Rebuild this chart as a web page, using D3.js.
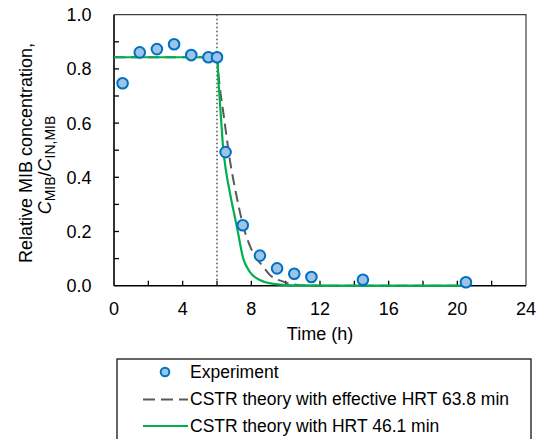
<!DOCTYPE html>
<html>
<head>
<meta charset="utf-8">
<script src="https://cdn.jsdelivr.net/npm/d3@7"></script>
<style>
  html, body { margin: 0; padding: 0; background: #fff; }
  svg { display: block; font-family: "Liberation Sans", Arial, sans-serif; }
</style>
</head>
<body>
<svg id="chart" width="537" height="439"></svg>
<script>
// Measured MIB concentration (relative to inlet) over time
const expTime = [0.5, 1.5, 2.5, 3.5, 4.5, 5.5, 6.0, 6.5, 7.5, 8.5, 9.5, 10.5, 11.5, 14.5, 20.5];
const expConc = [0.747, 0.861, 0.873, 0.891, 0.851, 0.843, 0.843, 0.493, 0.223, 0.111, 0.064, 0.044, 0.032, 0.022, 0.0125];

// CSTR theory, effective HRT 63.8 min
const effTime = [0, 6.0, 6.1, 6.41, 6.76, 7.11, 7.53, 8.11, 8.70, 9.09, 9.86, 10.43, 11.5, 20.5];
const effConc = [0.843, 0.843, 0.77, 0.62, 0.46, 0.34, 0.22, 0.12, 0.07, 0.039, 0.015, 0.005, 0.0, 0.0];

// CSTR theory, HRT 46.1 min
const hrtTime = [0, 6.0, 6.1, 6.2, 6.37, 6.51, 6.76, 7.15, 7.53, 7.92, 8.5, 9.38, 10.8, 13, 20.5];
const hrtConc = [0.843, 0.843, 0.74, 0.65, 0.50, 0.43, 0.34, 0.22, 0.10, 0.05, 0.021, 0.006, 0.001, 0.0, 0.0];

// Switch time marker (h)
const switchTime = 6;

// Axis ticks
const xMajorTicks = [0, 4, 8, 12, 16, 20, 24];
const xMinorTicks = [2, 4, 6, 8, 10, 12, 14, 16, 18, 20, 22];
const yMajorTicks = [0.0, 0.2, 0.4, 0.6, 0.8, 1.0];
const yMinorTicks = [0.1, 0.2, 0.3, 0.4, 0.5, 0.6, 0.7, 0.8, 0.9];

const legendLabels = [
  "Experiment",
  "CSTR theory with effective HRT 63.8 min",
  "CSTR theory with HRT 46.1 min"
];

const svg = d3.select("#chart");
const plot = { left: 114, right: 526, top: 14.7, bottom: 285.7 };

const x = d3.scaleLinear().domain([0, 24]).range([plot.left, plot.right]);
const y = d3.scaleLinear().domain([0, 1]).range([plot.bottom, plot.top]);

const fs = 18;
const dashPattern = "11,6";

// Frame (top and right)
svg.append("path")
  .attr("d", `M${plot.left},${plot.top}H${plot.right}V${plot.bottom}`)
  .attr("fill", "none").attr("stroke", "#404040").attr("stroke-width", 1.2);

// Inward ticks
svg.append("g").selectAll("line").data(xMinorTicks).join("line")
  .attr("x1", d => x(d)).attr("x2", d => x(d))
  .attr("y1", plot.bottom).attr("y2", plot.bottom - 5)
  .attr("stroke", "#000").attr("stroke-width", 1.3);
svg.append("g").selectAll("line").data(yMinorTicks).join("line")
  .attr("x1", plot.left).attr("x2", plot.left + 5)
  .attr("y1", d => y(d)).attr("y2", d => y(d))
  .attr("stroke", "#000").attr("stroke-width", 1.3);

// Axis lines
svg.append("line").attr("x1", plot.left).attr("x2", plot.left)
  .attr("y1", plot.top).attr("y2", plot.bottom)
  .attr("stroke", "#000").attr("stroke-width", 1.6);
svg.append("line").attr("x1", plot.left).attr("x2", plot.right)
  .attr("y1", plot.bottom).attr("y2", plot.bottom)
  .attr("stroke", "#000").attr("stroke-width", 1.6);

// Tick labels
svg.append("g").selectAll("text").data(xMajorTicks).join("text")
  .attr("x", d => x(d)).attr("y", 315)
  .attr("text-anchor", "middle").attr("font-size", fs).attr("fill", "#000")
  .text(d => d);
svg.append("g").selectAll("text").data(yMajorTicks).join("text")
  .attr("x", 91.5).attr("y", d => y(d) + 6.5)
  .attr("text-anchor", "end").attr("font-size", fs).attr("fill", "#000")
  .text(d => d.toFixed(1));

// Axis titles
svg.append("text").attr("x", (plot.left + plot.right) / 2).attr("y", 340)
  .attr("text-anchor", "middle").attr("font-size", fs).text("Time (h)");

const yTitle = svg.append("g");
yTitle.append("text")
  .attr("transform", "translate(32,153) rotate(-90)")
  .attr("text-anchor", "middle").attr("font-size", fs)
  .text("Relative MIB concentration,");
const t2 = yTitle.append("text")
  .attr("transform", "translate(51,165) rotate(-90)")
  .attr("text-anchor", "middle").attr("font-size", fs);
t2.append("tspan").attr("font-style", "italic").text("C");
t2.append("tspan").attr("font-size", 14).attr("dy", 4).text("MIB");
t2.append("tspan").attr("dy", -4).text("/");
t2.append("tspan").attr("font-style", "italic").text("C");
t2.append("tspan").attr("font-size", 14).attr("dy", 4).text("IN,MIB");

// Switch-time dotted line
svg.append("line")
  .attr("x1", x(switchTime)).attr("x2", x(switchTime))
  .attr("y1", plot.top).attr("y2", plot.bottom)
  .attr("stroke", "#595959").attr("stroke-width", 1.6)
  .attr("stroke-dasharray", "1.6,2.4");

const line = d3.line().x(d => x(d[0])).y(d => y(d[1])).curve(d3.curveMonotoneX);

// Effective-HRT theory (dashed)
svg.append("path")
  .datum(effTime.map((t, i) => [t, effConc[i]]))
  .attr("d", line).attr("fill", "none")
  .attr("stroke", "#595959").attr("stroke-width", 2)
  .attr("stroke-dasharray", dashPattern);

// HRT theory (green)
svg.append("path")
  .datum(hrtTime.map((t, i) => [t, hrtConc[i]]))
  .attr("d", line).attr("fill", "none")
  .attr("stroke", "#00b050").attr("stroke-width", 2.2);

// Experimental points
svg.append("g").selectAll("circle").data(expTime.map((t, i) => [t, expConc[i]])).join("circle")
  .attr("cx", d => x(d[0])).attr("cy", d => y(d[1])).attr("r", 5.3)
  .attr("fill", "#9dc3e6").attr("stroke", "#0070c0").attr("stroke-width", 2);

// Legend
const lg = svg.append("g");
lg.append("rect").attr("x", 117).attr("y", 359).attr("width", 414).attr("height", 100)
  .attr("fill", "#fff").attr("stroke", "#000").attr("stroke-width", 1.2);
lg.append("circle").attr("cx", 165).attr("cy", 372).attr("r", 4.3)
  .attr("fill", "#9dc3e6").attr("stroke", "#0070c0").attr("stroke-width", 2);
lg.append("line").attr("x1", 143).attr("x2", 188).attr("y1", 399.5).attr("y2", 399.5)
  .attr("stroke", "#595959").attr("stroke-width", 2).attr("stroke-dasharray", "12,6");
lg.append("line").attr("x1", 143).attr("x2", 188).attr("y1", 426).attr("y2", 426)
  .attr("stroke", "#00b050").attr("stroke-width", 2.2);
lg.selectAll("text.lbl").data(legendLabels).join("text").attr("class", "lbl")
  .attr("x", 190)
  .attr("y", (d, i) => 378.3 + i * 26.7)
  .attr("font-size", 17.5).text(d => d);
</script>
</body>
</html>
